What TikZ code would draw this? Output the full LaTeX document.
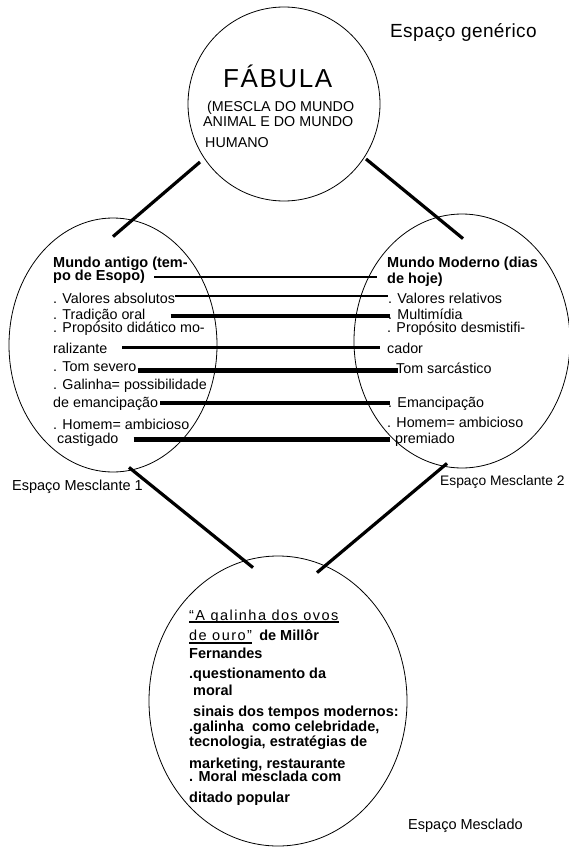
\documentclass[tikz,border=0pt]{standalone}
\usepackage{fontspec}
\setmainfont{Liberation Sans}
\usepackage{tikz}
\usetikzlibrary{positioning}
\usetikzlibrary{calc}
\usetikzlibrary{shapes.geometric}

\begin{document}
\begin{tikzpicture}[
    x=1pt, y=-1pt,
    txt/.style={anchor=base west, inner sep=0pt, font=\fontsize{14.3}{15}\selectfont},
    bld/.style={txt, font=\fontsize{14.5}{15}\selectfont\bfseries},
    space/.style={draw, ellipse, inner sep=0pt, line width=.8pt},
    link/.style={line width=3.2pt}
]

    \useasboundingbox (0,0) rectangle (569,848);

    % Spaces
    \node[space, minimum width=192pt, minimum height=194pt] (fab) at (284,104) {};
    \node[space, minimum width=208pt, minimum height=254pt] (antigo) at (113,345) {};
    \node[space, minimum width=216pt, minimum height=254pt] (moderno) at (462,341) {};
    \node[space, minimum width=258pt, minimum height=290pt] (mesclado) at (278,701) {};

    % Generic space
    \node[txt, font=\fontsize{19}{20}\selectfont\addfontfeature{LetterSpace=2}] (gen) at (390,38) {Espaço genérico};
    \node[txt, font=\fontsize{26}{28}\selectfont\addfontfeature{LetterSpace=6}] (fabt) at (223,88) {FÁBULA};
    \node[txt] (fab1) at (207,112) {(MESCLA DO MUNDO};
    \node[txt] (fab2) at (203,127) {ANIMAL E DO MUNDO};
    \node[txt] (fab3) at (205,147) {HUMANO};

    % Blending space 1
    \node[bld] (a0) at (53,267) {Mundo antigo (tem-};
    \node[bld] (a1) at (53,280) {po de Esopo)};
    \node[txt] (a2) at (53,303) {. Valores absolutos};
    \node[txt] (a3) at (53,319) {. Tradição oral};
    \node[txt] (a4) at (53,332) {. Propósito didático mo-};
    \node[txt] (a5) at (53,353) {ralizante};
    \node[txt] (a6) at (53,371) {. Tom severo};
    \node[txt] (a7) at (53,389) {. Galinha= possibilidade};
    \node[txt] (a8) at (53,407) {de emancipação};
    \node[txt] (a9) at (53,429) {. Homem= ambicioso};
    \node[txt] (a10) at (57,443) {castigado};

    % Blending space 2
    \node[bld] (m0) at (387,267) {Mundo Moderno (dias};
    \node[bld] (m1) at (387,283) {de hoje)};
    \node[txt] (m2) at (388,303) {. Valores relativos};
    \node[txt] (m3) at (388,319) {. Multimídia};
    \node[txt] (m4) at (387,332) {. Propósito desmistifi-};
    \node[txt] (m5) at (387,353) {cador};
    \node[txt] (m6) at (396,373) {Tom sarcástico};
    \node[txt] (m7) at (388,407) {. Emancipação};
    \node[txt] (m8) at (387,427) {. Homem= ambicioso};
    \node[txt] (m9) at (395,443) {premiado};

    % Bars between the two worlds
    \foreach \l/\r/\dx/\dy/\ex/\w in {a1/m1/9/-3/-10/2, a2/m2/0/-7/0/2, a3/m3/25/-3/2/4,
        a5/m5/15/-6/-7/3, a6/m6/1/-1/2/5, a8/m7/2/-4/2/4, a10/m9/15/-4/-5/5}
        \draw[line width=\w pt] ($(\l.base east)+(\dx,\dy)$) coordinate (s) -- ($(s -| \r.base west)+(\ex,0)$);

    % Blended space
    \node[txt, font=\fontsize{14.5}{15}\selectfont\addfontfeature{LetterSpace=10}] (b0) at (189,620) {“A galinha dos ovos};
    \node[txt, font=\fontsize{14.5}{15}\selectfont\addfontfeature{LetterSpace=10}] (b1) at (189,640) {de ouro”};
    \node[bld] (b2) at ($(b1.base east)+(7,0)$) {de Millôr};
    \node[bld] (b3) at (189,658) {Fernandes};
    \node[bld] (b4) at (189,678) {.questionamento da};
    \node[bld] (b5) at (193,695) {moral};
    \node[bld] (b6) at (193,716) {sinais dos tempos modernos:};
    \node[bld] (b7) at (189,731) {.galinha\ \ como celebridade,};
    \node[bld] (b8) at (189,746) {tecnologia, estratégias de};
    \node[bld] (b9) at (189,768) {marketing, restaurante};
    \node[bld] (b10) at (189,781) {. Moral mesclada com};
    \node[bld] (b11) at (189,802) {ditado popular};

    \draw[line width=1.3pt] ([yshift=-2pt]b0.base west) -- ([yshift=-2pt]b0.base east);
    \draw[line width=1.8pt] ([yshift=-3pt]b1.base west) -- ([yshift=-3pt]b1.base east);

    % Labels
    \node[txt, font=\fontsize{14.5}{15}\selectfont] (lab1) at (12,490) {Espaço Mesclante 1};
    \node[txt, font=\fontsize{13.8}{15}\selectfont] (lab2) at (440,485) {Espaço Mesclante 2};
    \node[txt, font=\fontsize{14.5}{15}\selectfont] (lab3) at (408,829) {Espaço Mesclado};

    % Links
    \draw[link] ($(fab.center)+(-84,58)$) -- ($(antigo.north)+(0,19)$);
    \draw[link] ($(fab.center)+(82,55)$) -- ($(moderno.north)+(1,25)$);
    \draw[link] ($(antigo.south)+(16,-5)$) -- ($(mesclado.north)+(-25,12)$);
    \draw[link] ($(moderno.south)+(-15,-5)$) -- ($(mesclado.north)+(39,17)$);

\end{tikzpicture}
\end{document}
